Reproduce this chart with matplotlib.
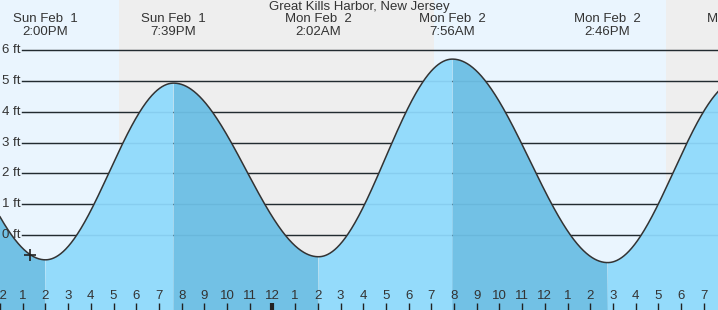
import numpy as np
import matplotlib
matplotlib.use('Agg')
import matplotlib.pyplot as plt

plt.rcParams['font.family'] = ['Liberation Sans', 'DejaVu Sans']

# hours after noon, Sun Feb 1
ext_hours = [-4.3, 2.0, 7.65, 14.03, 19.93, 26.77, 32.6]
ext_heights = [5.3, -0.81, 4.93, -0.71, 5.71, -0.90, 5.05]
ext_dates = ['', 'Sun Feb  1', 'Sun Feb  1', 'Mon Feb  2', 'Mon Feb  2', 'Mon Feb  2', 'Mon Feb  2']
ext_times = ['', '2:00PM', '7:39PM', '2:02AM', '7:56AM', '2:46PM', '8:36PM']

# day / night edges (hours after noon)
sunset1, sunrise, sunset2 = 5.25, 19.12, 29.34
now_hour, now_height = 1.32, -0.65

title = 'Great Kills Harbor, New Jersey'
ft_levels = [0, 1, 2, 3, 4, 5, 6]

x0, x1 = 0.0, 718 / 22.7
y0, y1 = -2.44, 7.63

fig = plt.figure(figsize=(7.18, 3.10), dpi=100)
ax = fig.add_axes([0, 0, 1, 1])
ax.set_xlim(x0, x1)
ax.set_ylim(y0, y1)
ax.axis('off')

# sky
day_col, night_col = '#eaf5fe', '#eeeeee'
ax.axvspan(x0, sunset1, color=day_col, lw=0, zorder=0)
ax.axvspan(sunset1, sunrise, color=night_col, lw=0, zorder=0)
ax.axvspan(sunrise, sunset2, color=day_col, lw=0, zorder=0)
ax.axvspan(sunset2, x1, color=night_col, lw=0, zorder=0)

# grid lines
for lv in ft_levels:
    ax.axhline(lv, xmin=22 / 718, color='#222222', lw=1.0, zorder=1)
    ax.text(2 / 22.7, lv, f'{lv} ft', ha='left', va='center', fontsize=9.5, color='#333333', zorder=6)

# tide curve between extremes (half-cosine shape)
t = np.linspace(x0, x1, 1500)
h = np.zeros_like(t)
rising = np.zeros_like(t, dtype=bool)
for i in range(len(ext_hours) - 1):
    ta, tb = ext_hours[i], ext_hours[i + 1]
    ha, hb = ext_heights[i], ext_heights[i + 1]
    m = (t >= ta) & (t <= tb)
    f = (t[m] - ta) / (tb - ta)
    h[m] = (ha + hb) / 2 + (ha - hb) / 2 * np.cos(np.pi * f)
    rising[m] = hb > ha

flood_col, ebb_col = '#94dbfb', '#72c1e5'
ax.fill_between(t, y0, h, where=rising, color=flood_col, lw=0, zorder=2, interpolate=True)
ax.fill_between(t, y0, h, where=~rising, color=ebb_col, lw=0, zorder=2, interpolate=True)
for lv in ft_levels:
    ax.axhline(lv, xmin=22 / 718, color='#2a6f9a', alpha=0.12, lw=1.0, zorder=3)
ax.plot(t, h, color='#333333', lw=1.1, zorder=4)

ax.plot(now_hour, now_height, marker='+', color='#222222', ms=9, mew=1.2, zorder=5)

# labels for extremes
for hr, d, tm in zip(ext_hours, ext_dates, ext_times):
    if d:
        ax.text(hr, y1 - 19 / 30.8, d, ha='center', va='center', fontsize=9.5, color='#333333', zorder=6)
        ax.text(hr, y1 - 32 / 30.8, tm, ha='center', va='center', fontsize=9.5, color='#333333', zorder=6)
ax.text((x0 + x1) / 2, y1 - 7 / 30.8, title, ha='center', va='center', fontsize=9.5, color='#333333', zorder=6)

# hour ticks
for hr in range(0, 32):
    lab = str((hr + 11) % 12 + 1)
    ax.text(hr, y0 + 14 / 30.8, lab, ha='center', va='center', fontsize=9.5, color='#333333', zorder=6)
    ax.plot([hr, hr], [y0, y0 + 7 / 30.8], color='#222222', lw=3 if hr == 12 else 1, zorder=6,
            solid_capstyle='butt')

fig.savefig('out.png', dpi=100)
